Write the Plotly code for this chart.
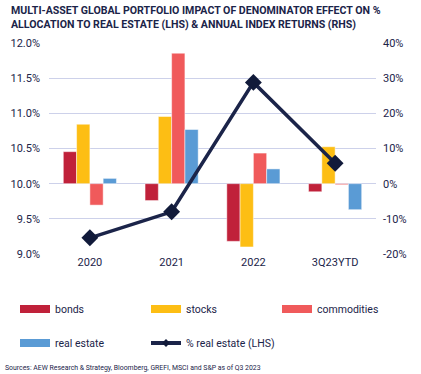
import plotly.graph_objects as go

categories = ["2020", "2021", "2022", "3Q23YTD"]
bonds = [9.1, -4.8, -16.4, -2.3]
stocks = [16.9, 19.1, -18.0, 10.5]
commodities = [-6.1, 37.1, 8.7, -0.3]
real_estate = [1.5, 15.4, 4.2, -7.4]
pct_real_estate = [9.23, 9.60, 11.44, 10.29]

rhs_ticks = [-20, -10, 0, 10, 20, 30, 40]
rhs_labels = ["-20%", "-10%", "0%", "10%", "20%", "30%", "40%"]
lhs_ticks = [9.0, 9.5, 10.0, 10.5, 11.0, 11.5, 12.0]
lhs_labels = ["9.0%", "9.5%", "10.0%", "10.5%", "11.0%", "11.5%", "12.0%"]

NAVY = "#1B2449"
FONT = "Roboto"
W, H = 421, 374
ML, MR, MT, MB = 49, 45, 43, 120
PH = H - MT - MB
PW = W - ML - MR


def px_x(x):
    return (x - ML) / PW


def px_y(y):
    return (H - MB - y) / PH


fig = go.Figure()
bar_specs = [
    ("bonds", bonds, "#C0213A", "legend", 15, 309),
    ("stocks", stocks, "#FDBE14", "legend2", 146, 309),
    ("commodities", commodities, "#F05A5B", "legend3", 277, 309),
    ("real estate", real_estate, "#5A9BD5", "legend4", 15, 343),
]
legend_layout = {}
for name, vals, color, lg, lx, ly in bar_specs:
    fig.add_trace(go.Bar(
        x=categories, y=vals, name=name, yaxis="y", showlegend=False,
        marker=dict(color=color, line=dict(color="rgba(255,255,255,0.6)", width=0.8)),
    ))
    # legend swatch proxy (no data drawn)
    fig.add_trace(go.Scatter(
        x=[None], y=[None], name=name, mode="lines", legend=lg,
        line=dict(color=color, width=8),
    ))
    legend_layout[lg] = (lx, ly)

fig.add_trace(go.Scatter(
    x=categories, y=pct_real_estate, name="% real estate (LHS)", yaxis="y2",
    showlegend=False, mode="lines+markers",
    line=dict(color=NAVY, width=3.5),
    marker=dict(symbol="diamond", size=13, color="#111A3A"),
))
fig.add_trace(go.Scatter(
    x=[None], y=[None], name="% real estate (LHS)", yaxis="y2",
    legend="legend5", mode="lines+markers",
    line=dict(color=NAVY, width=4),
    marker=dict(symbol="diamond", size=6, color="#111A3A"),
))
legend_layout["legend5"] = (146, 343)

legends = {}
for lg, (lx, ly) in legend_layout.items():
    legends[lg] = dict(
        orientation="h", x=px_x(lx), xanchor="left", y=px_y(ly), yanchor="middle",
        itemwidth=30, font=dict(size=10.5, color=NAVY), bgcolor="rgba(0,0,0,0)",
    )

fig.update_layout(
    width=W, height=H,
    margin=dict(l=ML, r=MR, t=MT, b=MB, autoexpand=False),
    paper_bgcolor="white", plot_bgcolor="white",
    font=dict(family=FONT, color=NAVY, size=11),
    barmode="group", bargap=0.35, bargroupgap=0,
    xaxis=dict(
        type="category", showgrid=False, showline=False, ticks="",
        tickfont=dict(size=11, color=NAVY),
    ),
    yaxis=dict(
        side="right", range=[-20, 40], tickvals=rhs_ticks, ticktext=rhs_labels,
        showgrid=True, gridcolor="#CDD1EA", gridwidth=1, zeroline=False,
        tickfont=dict(size=11, color=NAVY), ticklabelstandoff=6,
    ),
    yaxis2=dict(
        side="left", overlaying="y", range=[9, 12], tickvals=lhs_ticks,
        ticktext=lhs_labels, showgrid=False, zeroline=False,
        tickfont=dict(size=11, color=NAVY), ticklabelstandoff=8,
    ),
    annotations=[
        dict(
            text="<b>MULTI-ASSET GLOBAL PORTFOLIO IMPACT OF DENOMINATOR EFFECT ON %<br>ALLOCATION TO REAL ESTATE (LHS) & ANNUAL INDEX RETURNS (RHS)</b>",
            xref="paper", yref="paper", x=px_x(9), y=px_y(2), xanchor="left", yanchor="top",
            align="left", showarrow=False,
            font=dict(family=FONT, size=10.6, color=NAVY),
        ),
        dict(
            text="Sources: AEW Research & Strategy, Bloomberg, GREFI, MSCI and S&P as of Q3 2023",
            xref="paper", yref="paper", x=px_x(3), y=px_y(368), xanchor="left", yanchor="middle",
            showarrow=False, font=dict(family=FONT, size=6.9, color=NAVY),
        ),
    ],
    **legends,
)

fig.write_html(
    "out.html",
    config={"displayModeBar": False, "staticPlot": True},
    post_script="document.body.style.margin='0';document.body.style.overflow='hidden';",
)
